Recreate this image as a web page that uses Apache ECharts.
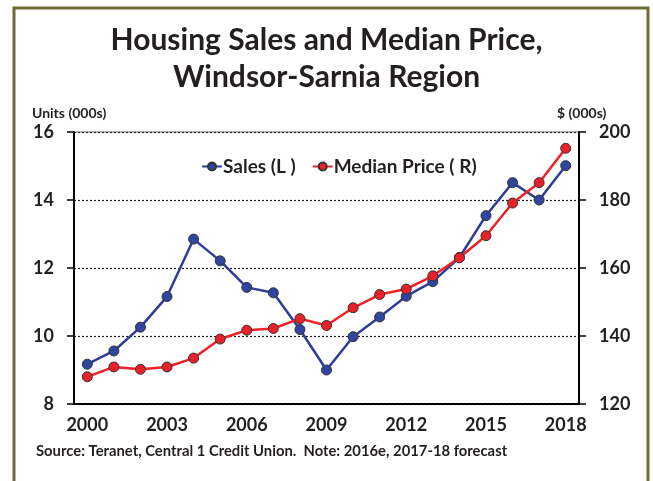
<!DOCTYPE html>
<html>
<head>
<meta charset="utf-8">
<script src="https://cdn.jsdelivr.net/npm/echarts@6/dist/echarts.min.js"></script>
<style>
  html, body { margin: 0; padding: 0; background: #fff; }
  #main { width: 653px; height: 481px; }
</style>
</head>
<body>
<div id="main"></div>
<script>
var years = ['2000', '2001', '2002', '2003', '2004', '2005', '2006', '2007', '2008', '2009',
  '2010', '2011', '2012', '2013', '2014', '2015', '2016', '2017', '2018'];
// sales, thousands of units (left axis)
var sales = [9.17, 9.56, 10.26, 11.16, 12.85, 12.21, 11.43, 11.27, 10.19, 9.0,
  9.98, 10.56, 11.17, 11.6, 12.31, 13.54, 14.51, 14.0, 15.01];
// median price, $000s (right axis)
var medianPrice = [128.0, 130.9, 130.2, 130.9, 133.5, 139.1, 141.7, 142.2, 145.1, 143.1,
  148.3, 152.2, 153.8, 157.7, 163.0, 169.5, 179.1, 185.1, 195.2];

var font = 'Lato, "Open Sans", sans-serif';
var chartDom = document.getElementById('main');
var myChart = echarts.init(chartDom, null, { renderer: 'canvas' });
var option;

option = {
  backgroundColor: '#ffffff',
  animation: false,
  title: {
    text: 'Housing Sales and Median Price,\nWindsor-Sarnia Region',
    left: 'center',
    top: 17,
    textStyle: {
      fontFamily: font,
      fontSize: 30,
      fontWeight: 'bold',
      color: '#231f20',
      lineHeight: 37
    }
  },
  graphic: [
    {
      type: 'rect',
      shape: { x: 14, y: 8, width: 634, height: 500 },
      style: { fill: 'none', stroke: '#6e6d33', lineWidth: 3 }
    },
    {
      type: 'text',
      left: 32,
      top: 106,
      style: { text: 'Units (000s)', font: 'bold 14px ' + font, fill: '#231f20' }
    },
    {
      type: 'text',
      left: 557,
      top: 106,
      style: { text: '$ (000s)', font: 'bold 14px ' + font, fill: '#231f20' }
    },
    {
      type: 'text',
      left: 36,
      top: 444,
      style: {
        text: 'Source: Teranet, Central 1 Credit Union.  Note: 2016e, 2017-18 forecast',
        font: 'bold 14.8px ' + font,
        fill: '#231f20'
      }
    }
  ],
  legend: {
    data: ['Sales (L )', 'Median Price ( R)'],
    left: 196,
    top: 152,
    itemWidth: 20,
    itemHeight: 10,
    itemGap: 16,
    textStyle: { fontFamily: font, fontSize: 19, fontWeight: 'bold', color: '#231f20', padding: [0, 0, 0, -4] }
  },
  grid: {
    left: 74,
    right: 74,
    top: 132,
    bottom: 77,
    show: true,
    borderColor: '#777',
    borderWidth: 1
  },
  xAxis: {
    type: 'category',
    data: years,
    boundaryGap: true,
    axisLine: { lineStyle: { color: '#000', width: 2 } },
    axisTick: { interval: 0, length: 7, lineStyle: { color: '#000', width: 1.5 } },
    axisLabel: {
      interval: 2,
      margin: 12,
      fontFamily: font,
      fontSize: 18,
      fontWeight: 'bold',
      color: '#231f20'
    },
    splitLine: { show: false }
  },
  yAxis: [
    {
      type: 'value',
      min: 8,
      max: 16,
      interval: 2,
      axisLine: { show: true, lineStyle: { color: '#000', width: 2 } },
      axisTick: { show: true, length: 7, lineStyle: { color: '#000', width: 1.5 } },
      axisLabel: { margin: 20, fontFamily: font, fontSize: 18, fontWeight: 'bold', color: '#231f20' },
      splitLine: { show: true, lineStyle: { color: '#222', type: [2, 2], width: 1.2 } }
    },
    {
      type: 'value',
      min: 120,
      max: 200,
      interval: 20,
      position: 'right',
      axisLine: { show: true, lineStyle: { color: '#000', width: 2 } },
      axisTick: { show: true, length: 7, lineStyle: { color: '#000', width: 1.5 } },
      axisLabel: { margin: 20, fontFamily: font, fontSize: 18, fontWeight: 'bold', color: '#231f20' },
      splitLine: { show: false }
    }
  ],
  series: [
    {
      name: 'Sales (L )',
      type: 'line',
      yAxisIndex: 0,
      data: sales,
      symbol: 'circle',
      symbolSize: 10,
      lineStyle: { color: '#2e3d96', width: 2.5 },
      itemStyle: { color: '#2f45a0', borderColor: '#333', borderWidth: 1 },
      z: 3
    },
    {
      name: 'Median Price ( R)',
      type: 'line',
      yAxisIndex: 1,
      data: medianPrice,
      symbol: 'circle',
      symbolSize: 10,
      lineStyle: { color: '#ee2226', width: 2.5 },
      itemStyle: { color: '#e8202a', borderColor: '#333', borderWidth: 1 },
      z: 4
    }
  ]
};

option && myChart.setOption(option);
</script>
</body>
</html>
